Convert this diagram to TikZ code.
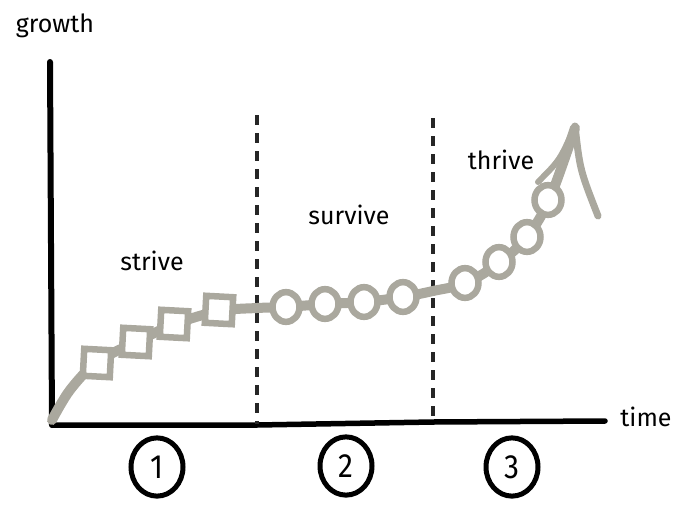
\documentclass[tikz,border=0pt]{standalone}
\usepackage{fontspec}
\setmainfont{Fira Sans}
\definecolor{curvegray}{RGB}{170,168,158}
\begin{document}
\begin{tikzpicture}[x=1pt,y=-1pt,
  lbl/.style={font=\fontsize{25}{28}\selectfont, inner sep=0pt, text=black},
  sq/.style={draw=curvegray, line width=6.5pt, fill=white, minimum size=27pt, inner sep=0pt},
  ring/.style={draw=curvegray, line width=6.5pt, fill=white, ellipse-ish},
  ellipse-ish/.style={circle, minimum size=27pt, inner sep=0pt, yscale=1.1},
  numc/.style={draw=black, line width=5pt, circle, minimum width=52pt, inner sep=0pt, yscale=1.12, font=\fontsize{30}{32}\selectfont},
  divider/.style={black!85, line width=3.6pt, dash pattern=on 10pt off 8pt},
  axis/.style={black, line width=6pt, line cap=round}]
\useasboundingbox (0,0) rectangle (688,509);
% axes
\coordinate (origin) at (52,425);
\coordinate (ytop) at (50,62);
\coordinate (xend) at (605,421);
\draw[axis] (origin) -- (ytop);
\draw[axis, line width=5.5pt] (origin) -- (257,425) -- (433,422) -- (xend);
% dividers
\coordinate (d1t) at (257,115); \coordinate (d1b) at (257,424);
\coordinate (d2t) at (433,118); \coordinate (d2b) at (433,422);
\draw[divider] (d1t) -- (d1b);
\draw[divider] (d2t) -- (d2b);
% curve
\draw[curvegray, line width=10pt, line cap=round] plot[smooth, tension=0.55] coordinates {
 (52,420) (70,390) (97,362) (136,342) (175,324) (219,311) (257,308) (286,307)
 (325,304) (364,302) (403,297) (433,291) (466,283) (499,263) (527,237) (550,198) (575,128)};
% arrow head
\coordinate (tip) at (575,126);
\coordinate (armL) at (538,182);
\coordinate (armR) at (598,216);
\draw[curvegray, line width=6pt, line cap=round] (armL) .. controls (560,160) .. (tip);
\draw[curvegray, line width=7pt, line cap=round] (tip) .. controls (580,170) .. (armR);
% squares
\node[sq, rotate=-3] (s1) at (97,363) {};
\node[sq, rotate=-3] (s2) at (136,342) {};
\node[sq, rotate=-3] (s3) at (174,324) {};
\node[sq, rotate=-3] (s4) at (219,310) {};
% circles
\node[ring] (c1) at (286,307) {};
\node[ring] (c2) at (325,304) {};
\node[ring] (c3) at (364,302) {};
\node[ring] (c4) at (403,297) {};
\node[ring] (c5) at (465,283) {};
\node[ring] (c6) at (499,262) {};
\node[ring] (c7) at (527,237) {};
\node[ring] (c8) at (548,200) {};
% labels
\node[lbl] (growth) at (55,26) {growth};
\node[lbl] (time) at (646,417) {time};
\node[lbl] (strive) at (152,261) {strive};
\node[lbl] (survive) at (349,215) {survive};
\node[lbl] (thrive) at (501,160) {thrive};
% numbered circles
\node[numc] (n1) at (157,467) {1};
\node[numc] (n2) at (346,466) {2};
\node[numc] (n3) at (512,467) {3};
\end{tikzpicture}
\end{document}
